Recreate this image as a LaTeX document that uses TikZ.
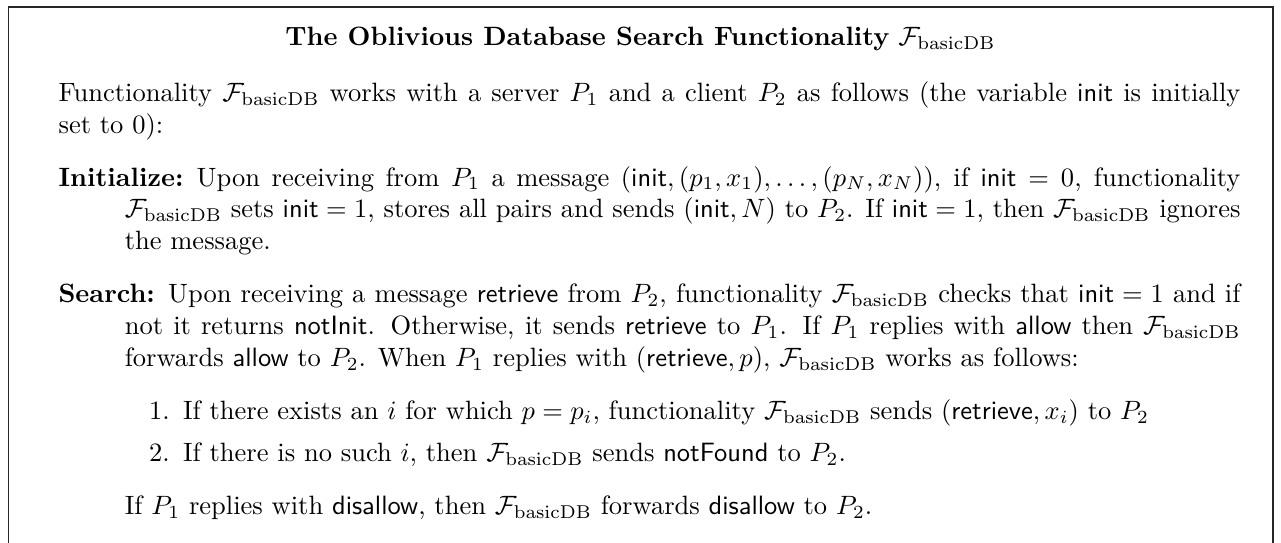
\documentclass[tikz,border=0pt]{standalone}
\usepackage{amsmath}
\usetikzlibrary{positioning}
\newcommand{\Fdb}{\mathcal{F}_{\mathrm{basicDB}}}
\newcommand{\msg}[1]{\textsf{#1}}
\begin{document}
\begin{tikzpicture}[x=1pt,y=1pt,
    frameline/.style={line width=0.5pt, draw=black!85},
    bodytext/.style={anchor=north west, text width=446pt, inner sep=0pt, align=justify}]
    \useasboundingbox (0,0) rectangle (483.4,-204.9);
    \draw[frameline] (3.2,-220) -- (3.2,-2.6) -- (480.4,-2.6) -- (480.4,-220);
    \node[anchor=base] (title) at (241.7,-17) {\textbf{The Oblivious Database Search Functionality} $\Fdb$};
    \node[bodytext] (body) at (21.9,-29.6) {\strut Functionality $\Fdb$ works with a server $P_1$ and a client $P_2$ as follows (the variable \msg{init} is initially set to 0):
    \begin{description}
    \item[Initialize:] Upon receiving from $P_1$ a message $(\msg{init},(p_1,x_1),\ldots,(p_N,x_N))$, if $\msg{init}=0$, functionality $\Fdb$ sets $\msg{init}=1$, stores all pairs and sends $(\msg{init},N)$ to $P_2$. If $\msg{init}=1$, then $\Fdb$ ignores the message.
    \item[Search:] Upon receiving a message \msg{retrieve} from $P_2$, functionality $\Fdb$ checks that $\msg{init}=1$ and if not it returns \msg{notInit}. Otherwise, it sends \msg{retrieve} to $P_1$. If $P_1$ replies with \msg{allow} then $\Fdb$ forwards \msg{allow} to $P_2$. When $P_1$ replies with $(\msg{retrieve},p)$, $\Fdb$ works as follows:
    \begin{enumerate}
    \item If there exists an $i$ for which $p=p_i$, functionality $\Fdb$ sends $(\msg{retrieve},x_i)$ to $P_2$
    \item If there is no such $i$, then $\Fdb$ sends \msg{notFound} to $P_2$.
    \end{enumerate}
    If $P_1$ replies with \msg{disallow}, then $\Fdb$ forwards \msg{disallow} to $P_2$.
    \end{description}};
\end{tikzpicture}
\end{document}
